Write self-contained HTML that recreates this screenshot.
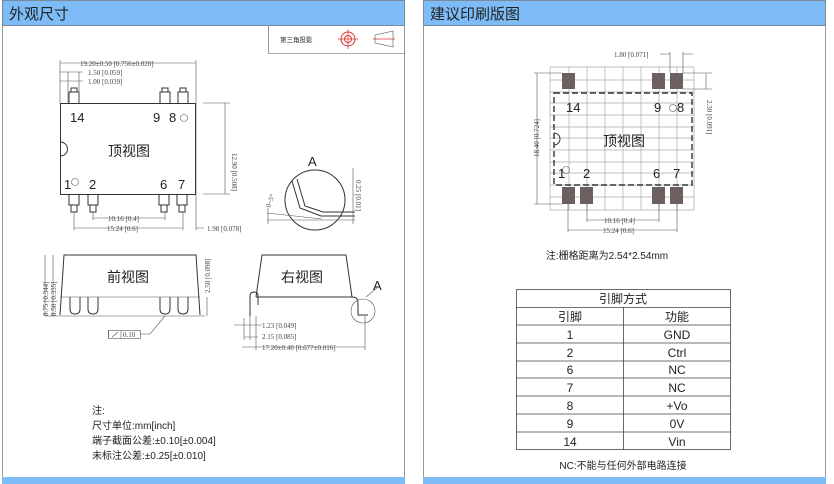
<!DOCTYPE html>
<html><head><meta charset="utf-8"><style>
body{margin:0;background:#fff;width:834px;height:484px;overflow:hidden}
svg{display:block}
text{font-family:"Liberation Sans","Noto Sans CJK SC",sans-serif;fill:#222}
.d{font-family:"Liberation Serif","Noto Serif CJK SC",serif;font-size:7px;fill:#444}
.l{stroke:#333;stroke-width:1;fill:none}
.t{stroke:#555;stroke-width:.6;fill:none}
</style></head><body>
<svg width="834" height="484" viewBox="0 0 834 484">
<!-- panels -->
<rect x="2.5" y="0.5" width="402" height="490" fill="#fff" stroke="#999"/>
<rect x="2.5" y="0.5" width="402" height="25" fill="#7dbcf7" stroke="#7a8a9a"/>
<text x="9" y="19" font-size="15">外观尺寸</text>
<rect x="423.5" y="0.5" width="402" height="490" fill="#fff" stroke="#999"/>
<rect x="423.5" y="0.5" width="402" height="25" fill="#7dbcf7" stroke="#7a8a9a"/>
<text x="430" y="19" font-size="15">建议印刷版图</text>
<rect x="2" y="477" width="403" height="7" fill="#7dbcf7"/>
<rect x="423" y="477" width="403" height="7" fill="#7dbcf7"/>

<!-- projection box -->
<path d="M268.5 26 V53.5 H405" class="t"/>
<text x="280" y="42" font-size="6.5">第三角投影</text>
<circle cx="348" cy="39" r="7" fill="none" stroke="#d33"/>
<circle cx="348" cy="39" r="3.5" fill="none" stroke="#d33"/>
<path d="M338 39H358M348 29V49M373 39H395" stroke="#d33" stroke-width=".7"/>
<path d="M375 35L393 31V47L375 43Z" class="t" stroke="#333"/>

<!-- top view -->
<rect x="60.5" y="103.5" width="135" height="91" class="l"/>
<path d="M60.5 142 a7 7 0 0 1 0 14" class="l"/>
<g class="l">
<path d="M69 103V92h10v11M71 92V88h6v4"/>
<path d="M160 103V92h10v11M162 92V88h6v4"/>
<path d="M178 103V92h10v11M180 92V88h6v4"/>
<path d="M69 195v10h10v-10M71 205v7h6v-7"/>
<path d="M88 195v10h10v-10M90 205v7h6v-7"/>
<path d="M159 195v10h10v-10M161 205v7h6v-7"/>
<path d="M177 195v10h10v-10M179 205v7h6v-7"/>
</g>
<text x="70" y="122" font-size="13">14</text>
<text x="153" y="122" font-size="13">9</text>
<text x="169" y="122" font-size="13">8</text>
<circle cx="184" cy="118" r="3.5" class="t"/>
<text x="108" y="156" font-size="14">顶视图</text>
<text x="64" y="189" font-size="13">1</text>
<circle cx="75" cy="182" r="3.5" class="t"/>
<text x="89" y="189" font-size="13">2</text>
<text x="160" y="189" font-size="13">6</text>
<text x="178" y="189" font-size="13">7</text>
<!-- dims -->
<g class="t">
<path d="M60 60V103M196 60V230M60 63H196M60 72H83M60 81H83M68 72V103M79 72V103"/>
<path d="M203 103H230M203 194H230M225 103V194"/>
<path d="M93 212V220M165 212V220M93 218H165M74 212V230M183 212V230M74 228H183M196 228H204"/>
</g>
<text class="d" x="80" y="66">19.20±0.50 [0.756±0.020]</text>
<text class="d" x="88" y="75">1.50 [0.059]</text>
<text class="d" x="88" y="84">1.00 [0.039]</text>
<text class="d" x="228" y="172" transform="rotate(90 228 172)" text-anchor="middle" dy="-4">12.90 [0.508]</text>
<text class="d" x="108" y="221">10.16 [0.4]</text>
<text class="d" x="107" y="231">15.24 [0.6]</text>
<text class="d" x="207" y="231">1.98 [0.078]</text>
<!-- detail A -->
<text x="308" y="166" font-size="13">A</text>
<circle cx="315" cy="200" r="30" class="l" stroke-width=".8"/>
<path d="M292 181L300 208L321 216H355M297 179L305 206L323 212H355" class="l" stroke-width=".8"/>
<path d="M267 213L322 219M267 220H355M268 208V224M353 168V224" class="t"/>
<text class="d" x="270" y="208" transform="rotate(-70 270 208)">0~5°</text>
<text class="d" x="356" y="180" transform="rotate(90 356 180)">0.25 [0.01]</text>

<!-- front view -->
<path d="M60 315L64 255H196L200 315" class="l"/>
<path d="M60 297H200M45 316H205" class="t"/>
<g class="l">
<path d="M70 297v12q0 5 5 5 5 0 5-5V297"/>
<path d="M88 297v12q0 5 5 5 5 0 5-5V297"/>
<path d="M160 297v12q0 5 5 5 5 0 5-5V297"/>
<path d="M178 297v12q0 5 5 5 5 0 5-5V297"/>
</g>
<text x="107" y="282" font-size="14">前视图</text>
<path d="M45 255V316M53 255V316M207 297V316" class="t"/>
<text class="d" x="48" y="316" transform="rotate(-90 48 316)" font-size="6">8.75 [0.344]</text>
<text class="d" x="56" y="316" transform="rotate(-90 56 316)" font-size="6">8.50 [0.335]</text>
<text class="d" x="210" y="293" transform="rotate(-90 210 293)" font-size="6">2.50 [0.098]</text>
<rect x="108.5" y="330.5" width="32" height="8" class="t"/>
<path d="M108.5 330.5V338.5M121 330.5V338.5M112 337L118 332" class="t"/>
<text class="d" x="123" y="337" font-size="6">0.10</text>
<path d="M140 334H150L165 316" class="t"/>

<!-- right view -->
<path d="M256 297L262 255H346L352 297" class="l"/>
<path d="M250 316V296q0-4 4-4 4 0 4 4V305M256 297H352M352 297q6 0 6 6V315h10" class="l"/>
<text x="281" y="282" font-size="14">右视图</text>
<text x="373" y="290" font-size="13">A</text>
<circle cx="363" cy="311" r="12" class="t"/>
<path d="M366 297L378 287" class="t"/>
<path d="M234 325H262M244 318V340M250 316V340M256 316V350M244 337H258M242 347H365M365 316V350" class="t"/>
<text class="d" x="262" y="328">1.23 [0.049]</text>
<text class="d" x="262" y="339">2.15 [0.085]</text>
<text class="d" x="262" y="350">17.20±0.40 [0.677±0.016]</text>

<!-- notes -->
<g font-size="10">
<text x="92" y="414">注:</text>
<text x="92" y="429">尺寸单位:mm[inch]</text>
<text x="92" y="444">端子截面公差:±0.10[±0.004]</text>
<text x="92" y="459">未标注公差:±0.25[±0.010]</text>
</g>

<!-- PCB grid -->
<g stroke="#aaa" stroke-width=".7">
<path d="M550 67V210M569 67V210M587 67V210M605 67V210M623 67V210M641 67V210M659 67V210M677 67V210M694 67V210"/>
<path d="M550 67H694M550 80H694M550 92H694M550 103H694M550 115H694M550 127H694M550 138H694M550 150H694M550 162H694M550 173H694M550 185H694M550 197H694M550 210H694"/>
</g>
<g fill="#6b5f5f">
<rect x="562" y="73" width="13" height="16"/><rect x="652" y="73" width="13" height="16"/><rect x="670" y="73" width="13" height="16"/>
<rect x="562" y="187" width="13" height="17"/><rect x="580" y="187" width="13" height="17"/><rect x="652" y="187" width="13" height="17"/><rect x="670" y="187" width="13" height="17"/>
</g>
<rect x="554" y="93" width="138" height="92" fill="none" stroke="#333" stroke-width="1.4" stroke-dasharray="6,3"/>
<path d="M554 133a6 6 0 0 1 0 12" class="l"/>
<text x="566" y="112" font-size="13">14</text>
<text x="654" y="112" font-size="13">9</text>
<circle cx="673" cy="108" r="3.5" class="t"/>
<text x="677" y="112" font-size="13">8</text>
<text x="603" y="146" font-size="14">顶视图</text>
<text x="558" y="178" font-size="13">1</text>
<circle cx="566" cy="170" r="3.5" class="t"/>
<text x="583" y="178" font-size="13">2</text>
<text x="653" y="178" font-size="13">6</text>
<text x="673" y="178" font-size="13">7</text>
<g class="t">
<path d="M670 52V73M683 52V73M660 54H670M683 54H693"/>
<path d="M534 73H562M534 204H562M537 73V204"/>
<path d="M683 73H712M683 89H712M706 73V89"/>
<path d="M587 204V222M659 204V222M587 220H659M568 204V232M677 204V232M568 230H677"/>
</g>
<text class="d" x="614" y="57">1.80 [0.071]</text>
<text class="d" x="540" y="138" transform="rotate(-90 540 138)" text-anchor="middle" dy="-1">18.40 [0.724]</text>
<text class="d" x="707" y="100" transform="rotate(90 707 100)">2.30 [0.091]</text>
<text class="d" x="604" y="223">10.16 [0.4]</text>
<text class="d" x="603" y="233">15.24 [0.6]</text>
<text x="607" y="259" font-size="10" text-anchor="middle">注:栅格距离为2.54*2.54mm</text>

<!-- table -->
<g stroke="#444" stroke-width=".8" fill="none">
<rect x="516.5" y="289.5" width="214" height="160"/>
<path d="M516 307.5H731M516 325H731M516 343H731M516 361H731M516 378H731M516 396H731M516 414H731M516 432H731M623.5 307V450"/>
</g>
<g font-size="12" text-anchor="middle">
<text x="623" y="303">引脚方式</text>
<text x="570" y="321">引脚</text><text x="677" y="321">功能</text>
<text x="570" y="339">1</text><text x="677" y="339">GND</text>
<text x="570" y="357">2</text><text x="677" y="357">Ctrl</text>
<text x="570" y="374">6</text><text x="677" y="374">NC</text>
<text x="570" y="392">7</text><text x="677" y="392">NC</text>
<text x="570" y="410">8</text><text x="677" y="410">+Vo</text>
<text x="570" y="428">9</text><text x="677" y="428">0V</text>
<text x="570" y="446">14</text><text x="677" y="446">Vin</text>
</g>
<text x="623" y="469" font-size="10" text-anchor="middle">NC:不能与任何外部电路连接</text>
</svg>
</body></html>
